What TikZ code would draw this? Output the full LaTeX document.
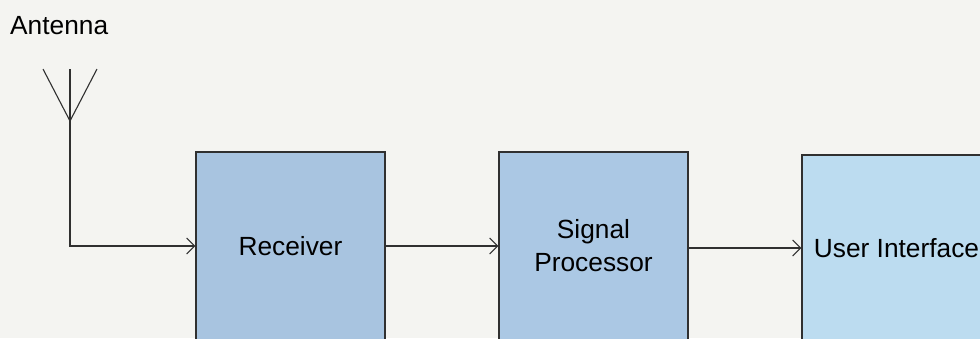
\documentclass[tikz,border=0pt]{standalone}
\usepackage{fontspec}
\setmainfont{Liberation Sans}
\usetikzlibrary{arrows.meta,positioning}

\definecolor{paper}{HTML}{F4F4F1}
\definecolor{rxblue}{HTML}{A8C4E0}
\definecolor{spblue}{HTML}{ABC8E4}
\definecolor{uiblue}{HTML}{BCDCF0}
\definecolor{ink}{HTML}{303030}

\tikzset{
  label text/.style={font=\fontsize{26.3}{33}\selectfont},
  block/.style={draw=ink, line width=1.1pt, minimum width=189pt, minimum height=188pt,
    align=center, label text, inner sep=0pt},
  link/.style={draw=ink, line width=1.1pt, -{Straight Barb[length=8pt,width=16pt]}}
}

\begin{document}
\begin{tikzpicture}[x=1pt,y=-1pt]

% Page and margins
\fill[paper] (0,0) rectangle (980,338);
\useasboundingbox (0,0) rectangle (980,338);
\clip (0,0) rectangle (980,338);

% Antenna
\node[label text, anchor=base west, inner sep=0pt] (antlabel) at (10,34) {Antenna};
\coordinate (ant) at (70,121);
\coordinate (antl) at (43,69);
\coordinate (antr) at (97,69);
\coordinate (anttop) at (70,69);
\draw[ink, line width=1.1pt] (antl) -- (ant) -- (antr);
\draw[ink, line width=1.1pt] (anttop) -- (ant);

% The blocks
\node[block, fill=rxblue] (rx) at (290.5,246) {Receiver};
\node[block, fill=spblue] (sp) at (593.5,246) {Signal\\Processor};
\node[block, fill=uiblue, minimum height=186pt] (ui) at (896.5,248) {User Interface};

% Connectors
\draw[link] (ant) |- (rx.west);
\draw[link] (rx) -- (sp);
\draw[link] (sp.east |- ui.west) -- (ui.west);

\end{tikzpicture}
\end{document}
